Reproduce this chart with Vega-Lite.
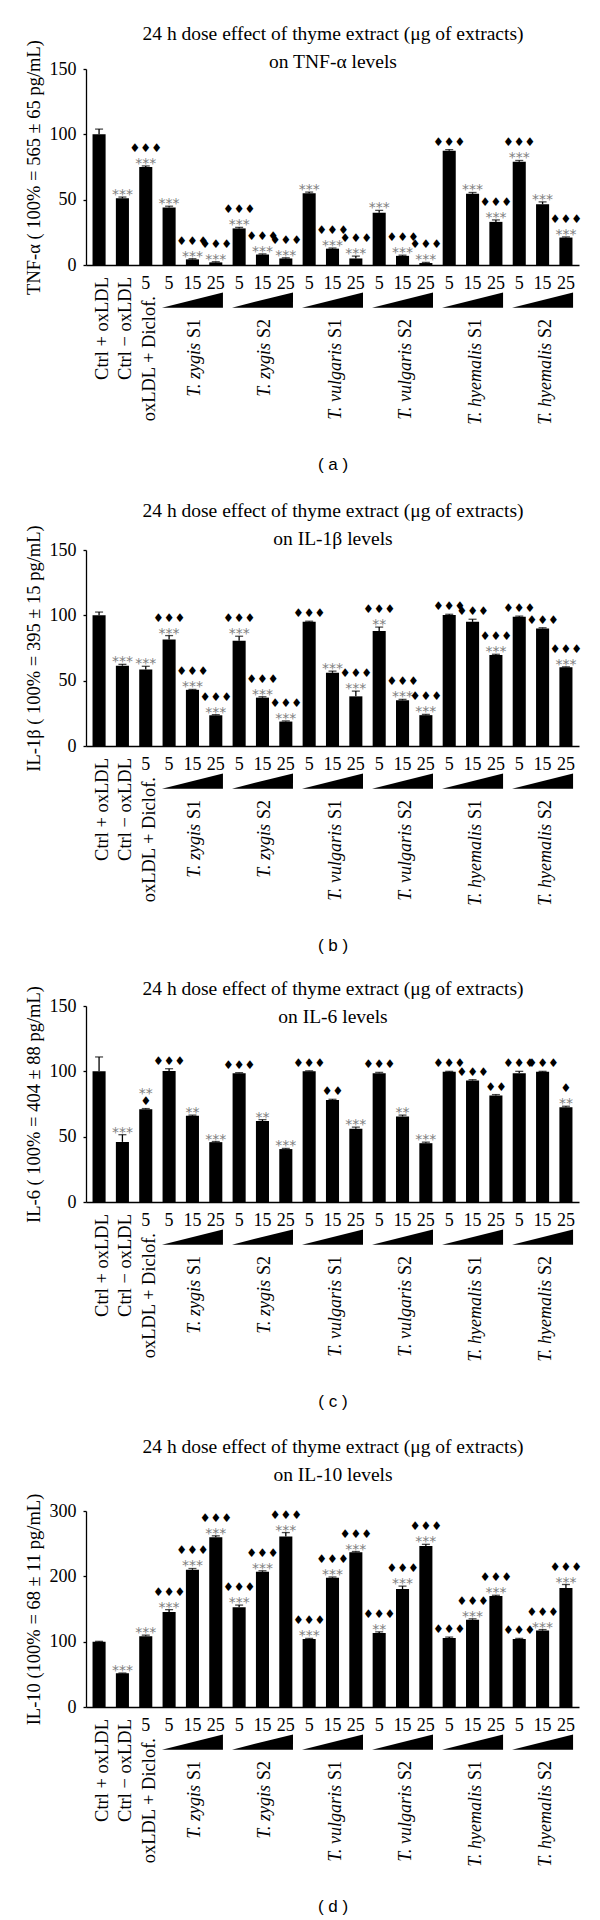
{
  "$schema": "https://vega.github.io/schema/vega-lite/v6.json",
  "background": "white",
  "padding": {"left": 23, "top": 23, "right": 5, "bottom": 3},
  "spacing": 0,
  "bounds": "flush",
  "datasets": {
    "a": [
      {"k": "Ctrl + oxLDL", "v": 100, "hi": 104, "s1": "", "s2": ""},
      {"k": "Ctrl − oxLDL", "v": 51, "hi": 52, "s1": "***", "s2": ""},
      {"k": "oxLDL + Diclof. 5", "v": 75, "hi": 75.8, "s1": "***", "s2": "♦♦♦"},
      {"k": "T. zygis S1 5", "v": 44, "hi": 45, "s1": "***", "s2": ""},
      {"k": "T. zygis S1 15", "v": 4.3, "hi": 4.8, "s1": "***", "s2": "♦♦♦"},
      {"k": "T. zygis S1 25", "v": 2, "hi": 2.5, "s1": "***", "s2": "♦♦♦"},
      {"k": "T. zygis S2 5", "v": 28, "hi": 28.8, "s1": "***", "s2": "♦♦♦"},
      {"k": "T. zygis S2 15", "v": 8, "hi": 8.5, "s1": "***", "s2": "♦♦♦"},
      {"k": "T. zygis S2 25", "v": 5, "hi": 5.5, "s1": "***", "s2": "♦♦♦"},
      {"k": "T. vulgaris S1 5", "v": 55, "hi": 55.8, "s1": "***", "s2": ""},
      {"k": "T. vulgaris S1 15", "v": 12.5, "hi": 13, "s1": "***", "s2": "♦♦♦"},
      {"k": "T. vulgaris S1 25", "v": 5, "hi": 6.8, "s1": "***", "s2": "♦♦♦"},
      {"k": "T. vulgaris S2 5", "v": 40, "hi": 41.8, "s1": "***", "s2": ""},
      {"k": "T. vulgaris S2 15", "v": 7, "hi": 7.5, "s1": "***", "s2": "♦♦♦"},
      {"k": "T. vulgaris S2 25", "v": 1.5, "hi": 2, "s1": "***", "s2": "♦♦♦"},
      {"k": "T. hyemalis S1 5", "v": 87.5, "hi": 88.3, "s1": "♦♦♦", "s2": ""},
      {"k": "T. hyemalis S1 15", "v": 54.5, "hi": 55.5, "s1": "***", "s2": ""},
      {"k": "T. hyemalis S1 25", "v": 33, "hi": 34.5, "s1": "***", "s2": "♦♦♦"},
      {"k": "T. hyemalis S2 5", "v": 79, "hi": 80, "s1": "***", "s2": "♦♦♦"},
      {"k": "T. hyemalis S2 15", "v": 46.5, "hi": 48.3, "s1": "***", "s2": ""},
      {"k": "T. hyemalis S2 25", "v": 21, "hi": 21.5, "s1": "***", "s2": "♦♦♦"}
    ],
    "b": [
      {"k": "Ctrl + oxLDL", "v": 100, "hi": 102.5, "s1": "", "s2": ""},
      {"k": "Ctrl − oxLDL", "v": 61.5, "hi": 62.5, "s1": "***", "s2": ""},
      {"k": "oxLDL + Diclof. 5", "v": 58.5, "hi": 61, "s1": "***", "s2": ""},
      {"k": "T. zygis S1 5", "v": 81.5, "hi": 84.5, "s1": "***", "s2": "♦♦♦"},
      {"k": "T. zygis S1 15", "v": 43, "hi": 43.3, "s1": "***", "s2": "♦♦♦"},
      {"k": "T. zygis S1 25", "v": 23.5, "hi": 24, "s1": "***", "s2": "♦♦♦"},
      {"k": "T. zygis S2 5", "v": 80.5, "hi": 84, "s1": "***", "s2": "♦♦♦"},
      {"k": "T. zygis S2 15", "v": 37, "hi": 37.7, "s1": "***", "s2": "♦♦♦"},
      {"k": "T. zygis S2 25", "v": 18.7, "hi": 19.2, "s1": "***", "s2": "♦♦♦"},
      {"k": "T. vulgaris S1 5", "v": 95, "hi": 95.5, "s1": "♦♦♦", "s2": ""},
      {"k": "T. vulgaris S1 15", "v": 56, "hi": 57.3, "s1": "***", "s2": ""},
      {"k": "T. vulgaris S1 25", "v": 38, "hi": 42, "s1": "***", "s2": "♦♦♦"},
      {"k": "T. vulgaris S2 5", "v": 88, "hi": 91, "s1": "**", "s2": "♦♦♦"},
      {"k": "T. vulgaris S2 15", "v": 35, "hi": 35.7, "s1": "***", "s2": "♦♦♦"},
      {"k": "T. vulgaris S2 25", "v": 23.6, "hi": 24.2, "s1": "***", "s2": "♦♦♦"},
      {"k": "T. hyemalis S1 5", "v": 100.3, "hi": 100.8, "s1": "♦♦♦", "s2": ""},
      {"k": "T. hyemalis S1 15", "v": 95, "hi": 97, "s1": "♦♦♦", "s2": ""},
      {"k": "T. hyemalis S1 25", "v": 69.7, "hi": 70.2, "s1": "***", "s2": "♦♦♦"},
      {"k": "T. hyemalis S2 5", "v": 99, "hi": 99.4, "s1": "♦♦♦", "s2": ""},
      {"k": "T. hyemalis S2 15", "v": 90, "hi": 90.5, "s1": "♦♦♦", "s2": ""},
      {"k": "T. hyemalis S2 25", "v": 60.2, "hi": 60.6, "s1": "***", "s2": "♦♦♦"}
    ],
    "c": [
      {"k": "Ctrl + oxLDL", "v": 100, "hi": 111, "s1": "", "s2": ""},
      {"k": "Ctrl − oxLDL", "v": 46, "hi": 51.5, "s1": "***", "s2": ""},
      {"k": "oxLDL + Diclof. 5", "v": 71, "hi": 71.5, "s1": "♦", "s2": "**"},
      {"k": "T. zygis S1 5", "v": 100.3, "hi": 102, "s1": "♦♦♦", "s2": ""},
      {"k": "T. zygis S1 15", "v": 66, "hi": 66.5, "s1": "**", "s2": ""},
      {"k": "T. zygis S1 25", "v": 45.8, "hi": 46.3, "s1": "***", "s2": ""},
      {"k": "T. zygis S2 5", "v": 98.5, "hi": 99, "s1": "♦♦♦", "s2": ""},
      {"k": "T. zygis S2 15", "v": 62, "hi": 63, "s1": "**", "s2": ""},
      {"k": "T. zygis S2 25", "v": 40.5, "hi": 41, "s1": "***", "s2": ""},
      {"k": "T. vulgaris S1 5", "v": 100, "hi": 100.4, "s1": "♦♦♦", "s2": ""},
      {"k": "T. vulgaris S1 15", "v": 78, "hi": 78.6, "s1": "♦♦", "s2": ""},
      {"k": "T. vulgaris S1 25", "v": 56, "hi": 57.3, "s1": "***", "s2": ""},
      {"k": "T. vulgaris S2 5", "v": 98.5, "hi": 99.2, "s1": "♦♦♦", "s2": ""},
      {"k": "T. vulgaris S2 15", "v": 65.5, "hi": 66.5, "s1": "**", "s2": ""},
      {"k": "T. vulgaris S2 25", "v": 45, "hi": 45.8, "s1": "***", "s2": ""},
      {"k": "T. hyemalis S1 5", "v": 99.6, "hi": 100, "s1": "♦♦♦", "s2": ""},
      {"k": "T. hyemalis S1 15", "v": 93, "hi": 93.6, "s1": "♦♦♦", "s2": ""},
      {"k": "T. hyemalis S1 25", "v": 81.6, "hi": 82.2, "s1": "♦♦", "s2": ""},
      {"k": "T. hyemalis S2 5", "v": 98.5, "hi": 100, "s1": "♦♦♦", "s2": ""},
      {"k": "T. hyemalis S2 15", "v": 99.6, "hi": 100, "s1": "♦♦♦", "s2": ""},
      {"k": "T. hyemalis S2 25", "v": 72.5, "hi": 73.3, "s1": "**", "s2": "♦"}
    ],
    "d": [
      {"k": "Ctrl + oxLDL", "v": 100, "hi": 100.5, "s1": "", "s2": ""},
      {"k": "Ctrl − oxLDL", "v": 51.5, "hi": 52, "s1": "***", "s2": ""},
      {"k": "oxLDL + Diclof. 5", "v": 108.3, "hi": 110, "s1": "***", "s2": ""},
      {"k": "T. zygis S1 5", "v": 145.4, "hi": 149, "s1": "***", "s2": "♦♦♦"},
      {"k": "T. zygis S1 15", "v": 210, "hi": 212, "s1": "***", "s2": "♦♦♦"},
      {"k": "T. zygis S1 25", "v": 260, "hi": 262, "s1": "***", "s2": "♦♦♦"},
      {"k": "T. zygis S2 5", "v": 152.5, "hi": 156, "s1": "***", "s2": "♦♦♦"},
      {"k": "T. zygis S2 15", "v": 207, "hi": 208.5, "s1": "***", "s2": "♦♦♦"},
      {"k": "T. zygis S2 25", "v": 261, "hi": 267, "s1": "***", "s2": "♦♦♦"},
      {"k": "T. vulgaris S1 5", "v": 104, "hi": 105, "s1": "***", "s2": "♦♦♦"},
      {"k": "T. vulgaris S1 15", "v": 198, "hi": 199, "s1": "***", "s2": "♦♦♦"},
      {"k": "T. vulgaris S1 25", "v": 237, "hi": 238, "s1": "***", "s2": "♦♦♦"},
      {"k": "T. vulgaris S2 5", "v": 113.3, "hi": 115, "s1": "**", "s2": "♦♦♦"},
      {"k": "T. vulgaris S2 15", "v": 180.6, "hi": 185, "s1": "***", "s2": "♦♦♦"},
      {"k": "T. vulgaris S2 25", "v": 246.5, "hi": 249, "s1": "***", "s2": "♦♦♦"},
      {"k": "T. hyemalis S1 5", "v": 105.6, "hi": 107, "s1": "♦♦♦", "s2": ""},
      {"k": "T. hyemalis S1 15", "v": 133.7, "hi": 135, "s1": "***", "s2": "♦♦♦"},
      {"k": "T. hyemalis S1 25", "v": 170, "hi": 171, "s1": "***", "s2": "♦♦♦"},
      {"k": "T. hyemalis S2 5", "v": 104, "hi": 105, "s1": "♦♦♦", "s2": ""},
      {"k": "T. hyemalis S2 15", "v": 117, "hi": 118.5, "s1": "***", "s2": "♦♦♦"},
      {"k": "T. hyemalis S2 25", "v": 182, "hi": 187.5, "s1": "***", "s2": "♦♦♦"}
    ],
    "doses": [
      {"k": "oxLDL + Diclof. 5", "dose": "5"},
      {"k": "T. zygis S1 5", "dose": "5"}, {"k": "T. zygis S1 15", "dose": "15"}, {"k": "T. zygis S1 25", "dose": "25"},
      {"k": "T. zygis S2 5", "dose": "5"}, {"k": "T. zygis S2 15", "dose": "15"}, {"k": "T. zygis S2 25", "dose": "25"},
      {"k": "T. vulgaris S1 5", "dose": "5"}, {"k": "T. vulgaris S1 15", "dose": "15"}, {"k": "T. vulgaris S1 25", "dose": "25"},
      {"k": "T. vulgaris S2 5", "dose": "5"}, {"k": "T. vulgaris S2 15", "dose": "15"}, {"k": "T. vulgaris S2 25", "dose": "25"},
      {"k": "T. hyemalis S1 5", "dose": "5"}, {"k": "T. hyemalis S1 15", "dose": "15"}, {"k": "T. hyemalis S1 25", "dose": "25"},
      {"k": "T. hyemalis S2 5", "dose": "5"}, {"k": "T. hyemalis S2 15", "dose": "15"}, {"k": "T. hyemalis S2 25", "dose": "25"}
    ],
    "ctrl": [
      {"k": "Ctrl + oxLDL", "name": "Ctrl + oxLDL"},
      {"k": "Ctrl − oxLDL", "name": "Ctrl − oxLDL"}
    ],
    "diclof": [
      {"k": "oxLDL + Diclof. 5", "name": "oxLDL + Diclof."}
    ],
    "groups": [
      {"k": "T. zygis S1 15", "sp": "T. zygis", "s": "S1"},
      {"k": "T. zygis S2 15", "sp": "T. zygis", "s": "S2"},
      {"k": "T. vulgaris S1 15", "sp": "T. vulgaris", "s": "S1"},
      {"k": "T. vulgaris S2 15", "sp": "T. vulgaris", "s": "S2"},
      {"k": "T. hyemalis S1 15", "sp": "T. hyemalis", "s": "S1"},
      {"k": "T. hyemalis S2 15", "sp": "T. hyemalis", "s": "S2"}
    ]
  },
  "vconcat": [
    {
      "width": 493, "height": 196,
      "resolve": {"axis": {"x": "independent"}},
      "layer": [
        {"data": {"name": "a"}, "mark": {"type": "bar", "color": "black"},
         "encoding": {
           "x": {"field": "k", "type": "nominal", "scale": {"domain": ["Ctrl + oxLDL","Ctrl − oxLDL","oxLDL + Diclof. 5","T. zygis S1 5","T. zygis S1 15","T. zygis S1 25","T. zygis S2 5","T. zygis S2 15","T. zygis S2 25","T. vulgaris S1 5","T. vulgaris S1 15","T. vulgaris S1 25","T. vulgaris S2 5","T. vulgaris S2 15","T. vulgaris S2 25","T. hyemalis S1 5","T. hyemalis S1 15","T. hyemalis S1 25","T. hyemalis S2 5","T. hyemalis S2 15","T. hyemalis S2 25"], "paddingInner": 0.44, "paddingOuter": 0.28},
                 "axis": {"orient": "bottom", "title": "( a )", "titleY": 199, "titleBaseline": "middle", "titleFont": "Liberation Sans", "titleFontSize": 17, "labels": false, "ticks": false, "domain": true}},
           "y": {"field": "v", "type": "quantitative", "scale": {"domain": [0, 150], "nice": false}, "axis": {"title": "TNF-α ( 100% = 565 ± 65 pg/mL)", "values": [0, 50, 100, 150]}}}},
        {"data": {"name": "a"}, "mark": {"type": "rule", "color": "black", "strokeWidth": 1.3},
         "encoding": {"x": {"field": "k", "type": "nominal", "axis": {"orient": "top", "title": ["24 h dose effect of thyme extract (μg of extracts)", "on TNF-α levels"], "titleY": -30, "titleBaseline": "alphabetic", "titleFont": "Liberation Serif", "titleFontSize": 19.5, "titleLineHeight": 28, "labels": false, "ticks": false, "domain": false}},
                      "y": {"field": "v", "type": "quantitative"}, "y2": {"field": "hi"}}},
        {"data": {"name": "a"}, "mark": {"type": "tick", "orient": "horizontal", "size": 8, "thickness": 1.3, "color": "black"},
         "encoding": {"x": {"field": "k", "type": "nominal", "axis": null}, "y": {"field": "hi", "type": "quantitative"}}},
        {"data": {"name": "a"}, "transform": [{"filter": "indexof(datum.s1, '*') >= 0"}], "mark": {"type": "text", "font": "DejaVu Sans", "fontSize": 14, "color": "#808080", "baseline": "alphabetic", "dy": 2},
         "encoding": {"x": {"field": "k", "type": "nominal", "axis": null}, "y": {"field": "hi", "type": "quantitative"}, "text": {"field": "s1"}}},
        {"data": {"name": "a"}, "transform": [{"filter": "indexof(datum.s1, '♦') >= 0"}], "mark": {"type": "text", "font": "DejaVu Sans", "fontSize": 12, "color": "black", "baseline": "alphabetic", "dy": -4},
         "encoding": {"x": {"field": "k", "type": "nominal", "axis": null}, "y": {"field": "hi", "type": "quantitative"}, "text": {"field": "s1"}}},
        {"data": {"name": "a"}, "transform": [{"filter": "indexof(datum.s2, '*') >= 0"}], "mark": {"type": "text", "font": "DejaVu Sans", "fontSize": 14, "color": "#808080", "baseline": "alphabetic", "dy": -11},
         "encoding": {"x": {"field": "k", "type": "nominal", "axis": null}, "y": {"field": "hi", "type": "quantitative"}, "text": {"field": "s2"}}},
        {"data": {"name": "a"}, "transform": [{"filter": "indexof(datum.s2, '♦') >= 0"}], "mark": {"type": "text", "font": "DejaVu Sans", "fontSize": 12, "color": "black", "baseline": "alphabetic", "dy": -14},
         "encoding": {"x": {"field": "k", "type": "nominal", "axis": null}, "y": {"field": "hi", "type": "quantitative"}, "text": {"field": "s2"}}},
        {"data": {"name": "doses"}, "mark": {"type": "text", "fontSize": 18, "baseline": "middle", "yOffset": 19},
         "encoding": {"x": {"field": "k", "type": "nominal", "axis": null}, "y": {"datum": 0}, "text": {"field": "dose"}}},
        {"data": {"name": "groups"}, "mark": {"type": "point", "shape": "M -1 0.25 L 1 0.25 L 1 -0.25 Z", "size": 3721, "filled": true, "color": "black", "opacity": 1, "strokeWidth": 0, "yOffset": 35},
         "encoding": {"x": {"field": "k", "type": "nominal", "axis": null}, "y": {"datum": 0}}},
        {"data": {"name": "ctrl"}, "mark": {"type": "text", "angle": 270, "align": "right", "baseline": "middle", "fontSize": 18.5, "yOffset": 12, "dy": 3},
         "encoding": {"x": {"field": "k", "type": "nominal", "axis": null}, "y": {"datum": 0}, "text": {"field": "name"}}},
        {"data": {"name": "diclof"}, "mark": {"type": "text", "angle": 270, "align": "right", "baseline": "middle", "fontSize": 18.5, "yOffset": 31, "dy": 3},
         "encoding": {"x": {"field": "k", "type": "nominal", "axis": null}, "y": {"datum": 0}, "text": {"field": "name"}}},
        {"data": {"name": "groups"}, "mark": {"type": "text", "angle": 270, "align": "right", "baseline": "middle", "fontSize": 18, "yOffset": 54, "dy": 3},
         "encoding": {"x": {"field": "k", "type": "nominal", "axis": null}, "y": {"datum": 0}, "text": {"field": "s"}}},
        {"data": {"name": "groups"}, "mark": {"type": "text", "angle": 270, "align": "right", "baseline": "middle", "fontSize": 18, "fontStyle": "italic", "yOffset": 78, "dy": 3},
         "encoding": {"x": {"field": "k", "type": "nominal", "axis": null}, "y": {"datum": 0}, "text": {"field": "sp"}}}
      ]
    },
    {"width": 493, "height": 285, "data": {"values": []}, "mark": "point", "encoding": {}},
    {
      "width": 493, "height": 196,
      "resolve": {"axis": {"x": "independent"}},
      "layer": [
        {"data": {"name": "b"}, "mark": {"type": "bar", "color": "black"},
         "encoding": {
           "x": {"field": "k", "type": "nominal", "scale": {"domain": ["Ctrl + oxLDL","Ctrl − oxLDL","oxLDL + Diclof. 5","T. zygis S1 5","T. zygis S1 15","T. zygis S1 25","T. zygis S2 5","T. zygis S2 15","T. zygis S2 25","T. vulgaris S1 5","T. vulgaris S1 15","T. vulgaris S1 25","T. vulgaris S2 5","T. vulgaris S2 15","T. vulgaris S2 25","T. hyemalis S1 5","T. hyemalis S1 15","T. hyemalis S1 25","T. hyemalis S2 5","T. hyemalis S2 15","T. hyemalis S2 25"], "paddingInner": 0.44, "paddingOuter": 0.28},
                 "axis": {"orient": "bottom", "title": "( b )", "titleY": 199, "titleBaseline": "middle", "titleFont": "Liberation Sans", "titleFontSize": 17, "labels": false, "ticks": false, "domain": true}},
           "y": {"field": "v", "type": "quantitative", "scale": {"domain": [0, 150], "nice": false}, "axis": {"title": "IL-1β ( 100% = 395 ± 15 pg/mL)", "values": [0, 50, 100, 150]}}}},
        {"data": {"name": "b"}, "mark": {"type": "rule", "color": "black", "strokeWidth": 1.3},
         "encoding": {"x": {"field": "k", "type": "nominal", "axis": {"orient": "top", "title": ["24 h dose effect of thyme extract (μg of extracts)", "on IL-1β levels"], "titleY": -34, "titleBaseline": "alphabetic", "titleFont": "Liberation Serif", "titleFontSize": 19.5, "titleLineHeight": 28, "labels": false, "ticks": false, "domain": false}},
                      "y": {"field": "v", "type": "quantitative"}, "y2": {"field": "hi"}}},
        {"data": {"name": "b"}, "mark": {"type": "tick", "orient": "horizontal", "size": 8, "thickness": 1.3, "color": "black"},
         "encoding": {"x": {"field": "k", "type": "nominal", "axis": null}, "y": {"field": "hi", "type": "quantitative"}}},
        {"data": {"name": "b"}, "transform": [{"filter": "indexof(datum.s1, '*') >= 0"}], "mark": {"type": "text", "font": "DejaVu Sans", "fontSize": 14, "color": "#808080", "baseline": "alphabetic", "dy": 2},
         "encoding": {"x": {"field": "k", "type": "nominal", "axis": null}, "y": {"field": "hi", "type": "quantitative"}, "text": {"field": "s1"}}},
        {"data": {"name": "b"}, "transform": [{"filter": "indexof(datum.s1, '♦') >= 0"}], "mark": {"type": "text", "font": "DejaVu Sans", "fontSize": 12, "color": "black", "baseline": "alphabetic", "dy": -4},
         "encoding": {"x": {"field": "k", "type": "nominal", "axis": null}, "y": {"field": "hi", "type": "quantitative"}, "text": {"field": "s1"}}},
        {"data": {"name": "b"}, "transform": [{"filter": "indexof(datum.s2, '*') >= 0"}], "mark": {"type": "text", "font": "DejaVu Sans", "fontSize": 14, "color": "#808080", "baseline": "alphabetic", "dy": -11},
         "encoding": {"x": {"field": "k", "type": "nominal", "axis": null}, "y": {"field": "hi", "type": "quantitative"}, "text": {"field": "s2"}}},
        {"data": {"name": "b"}, "transform": [{"filter": "indexof(datum.s2, '♦') >= 0"}], "mark": {"type": "text", "font": "DejaVu Sans", "fontSize": 12, "color": "black", "baseline": "alphabetic", "dy": -14},
         "encoding": {"x": {"field": "k", "type": "nominal", "axis": null}, "y": {"field": "hi", "type": "quantitative"}, "text": {"field": "s2"}}},
        {"data": {"name": "doses"}, "mark": {"type": "text", "fontSize": 18, "baseline": "middle", "yOffset": 19},
         "encoding": {"x": {"field": "k", "type": "nominal", "axis": null}, "y": {"datum": 0}, "text": {"field": "dose"}}},
        {"data": {"name": "groups"}, "mark": {"type": "point", "shape": "M -1 0.25 L 1 0.25 L 1 -0.25 Z", "size": 3721, "filled": true, "color": "black", "opacity": 1, "strokeWidth": 0, "yOffset": 35},
         "encoding": {"x": {"field": "k", "type": "nominal", "axis": null}, "y": {"datum": 0}}},
        {"data": {"name": "ctrl"}, "mark": {"type": "text", "angle": 270, "align": "right", "baseline": "middle", "fontSize": 18.5, "yOffset": 12, "dy": 3},
         "encoding": {"x": {"field": "k", "type": "nominal", "axis": null}, "y": {"datum": 0}, "text": {"field": "name"}}},
        {"data": {"name": "diclof"}, "mark": {"type": "text", "angle": 270, "align": "right", "baseline": "middle", "fontSize": 18.5, "yOffset": 31, "dy": 3},
         "encoding": {"x": {"field": "k", "type": "nominal", "axis": null}, "y": {"datum": 0}, "text": {"field": "name"}}},
        {"data": {"name": "groups"}, "mark": {"type": "text", "angle": 270, "align": "right", "baseline": "middle", "fontSize": 18, "yOffset": 54, "dy": 3},
         "encoding": {"x": {"field": "k", "type": "nominal", "axis": null}, "y": {"datum": 0}, "text": {"field": "s"}}},
        {"data": {"name": "groups"}, "mark": {"type": "text", "angle": 270, "align": "right", "baseline": "middle", "fontSize": 18, "fontStyle": "italic", "yOffset": 78, "dy": 3},
         "encoding": {"x": {"field": "k", "type": "nominal", "axis": null}, "y": {"datum": 0}, "text": {"field": "sp"}}}
      ]
    },
    {"width": 493, "height": 260, "data": {"values": []}, "mark": "point", "encoding": {}},
    {
      "width": 493, "height": 196,
      "resolve": {"axis": {"x": "independent"}},
      "layer": [
        {"data": {"name": "c"}, "mark": {"type": "bar", "color": "black"},
         "encoding": {
           "x": {"field": "k", "type": "nominal", "scale": {"domain": ["Ctrl + oxLDL","Ctrl − oxLDL","oxLDL + Diclof. 5","T. zygis S1 5","T. zygis S1 15","T. zygis S1 25","T. zygis S2 5","T. zygis S2 15","T. zygis S2 25","T. vulgaris S1 5","T. vulgaris S1 15","T. vulgaris S1 25","T. vulgaris S2 5","T. vulgaris S2 15","T. vulgaris S2 25","T. hyemalis S1 5","T. hyemalis S1 15","T. hyemalis S1 25","T. hyemalis S2 5","T. hyemalis S2 15","T. hyemalis S2 25"], "paddingInner": 0.44, "paddingOuter": 0.28},
                 "axis": {"orient": "bottom", "title": "( c )", "titleY": 199, "titleBaseline": "middle", "titleFont": "Liberation Sans", "titleFontSize": 17, "labels": false, "ticks": false, "domain": true}},
           "y": {"field": "v", "type": "quantitative", "scale": {"domain": [0, 150], "nice": false}, "axis": {"title": "IL-6 ( 100% = 404 ± 88 pg/mL)", "values": [0, 50, 100, 150]}}}},
        {"data": {"name": "c"}, "mark": {"type": "rule", "color": "black", "strokeWidth": 1.3},
         "encoding": {"x": {"field": "k", "type": "nominal", "axis": {"orient": "top", "title": ["24 h dose effect of thyme extract (μg of extracts)", "on IL-6 levels"], "titleY": -12, "titleBaseline": "alphabetic", "titleFont": "Liberation Serif", "titleFontSize": 19.5, "titleLineHeight": 28, "labels": false, "ticks": false, "domain": false}},
                      "y": {"field": "v", "type": "quantitative"}, "y2": {"field": "hi"}}},
        {"data": {"name": "c"}, "mark": {"type": "tick", "orient": "horizontal", "size": 8, "thickness": 1.3, "color": "black"},
         "encoding": {"x": {"field": "k", "type": "nominal", "axis": null}, "y": {"field": "hi", "type": "quantitative"}}},
        {"data": {"name": "c"}, "transform": [{"filter": "indexof(datum.s1, '*') >= 0"}], "mark": {"type": "text", "font": "DejaVu Sans", "fontSize": 14, "color": "#808080", "baseline": "alphabetic", "dy": 2},
         "encoding": {"x": {"field": "k", "type": "nominal", "axis": null}, "y": {"field": "hi", "type": "quantitative"}, "text": {"field": "s1"}}},
        {"data": {"name": "c"}, "transform": [{"filter": "indexof(datum.s1, '♦') >= 0"}], "mark": {"type": "text", "font": "DejaVu Sans", "fontSize": 12, "color": "black", "baseline": "alphabetic", "dy": -4},
         "encoding": {"x": {"field": "k", "type": "nominal", "axis": null}, "y": {"field": "hi", "type": "quantitative"}, "text": {"field": "s1"}}},
        {"data": {"name": "c"}, "transform": [{"filter": "indexof(datum.s2, '*') >= 0"}], "mark": {"type": "text", "font": "DejaVu Sans", "fontSize": 14, "color": "#808080", "baseline": "alphabetic", "dy": -11},
         "encoding": {"x": {"field": "k", "type": "nominal", "axis": null}, "y": {"field": "hi", "type": "quantitative"}, "text": {"field": "s2"}}},
        {"data": {"name": "c"}, "transform": [{"filter": "indexof(datum.s2, '♦') >= 0"}], "mark": {"type": "text", "font": "DejaVu Sans", "fontSize": 12, "color": "black", "baseline": "alphabetic", "dy": -14},
         "encoding": {"x": {"field": "k", "type": "nominal", "axis": null}, "y": {"field": "hi", "type": "quantitative"}, "text": {"field": "s2"}}},
        {"data": {"name": "doses"}, "mark": {"type": "text", "fontSize": 18, "baseline": "middle", "yOffset": 19},
         "encoding": {"x": {"field": "k", "type": "nominal", "axis": null}, "y": {"datum": 0}, "text": {"field": "dose"}}},
        {"data": {"name": "groups"}, "mark": {"type": "point", "shape": "M -1 0.25 L 1 0.25 L 1 -0.25 Z", "size": 3721, "filled": true, "color": "black", "opacity": 1, "strokeWidth": 0, "yOffset": 35},
         "encoding": {"x": {"field": "k", "type": "nominal", "axis": null}, "y": {"datum": 0}}},
        {"data": {"name": "ctrl"}, "mark": {"type": "text", "angle": 270, "align": "right", "baseline": "middle", "fontSize": 18.5, "yOffset": 12, "dy": 3},
         "encoding": {"x": {"field": "k", "type": "nominal", "axis": null}, "y": {"datum": 0}, "text": {"field": "name"}}},
        {"data": {"name": "diclof"}, "mark": {"type": "text", "angle": 270, "align": "right", "baseline": "middle", "fontSize": 18.5, "yOffset": 31, "dy": 3},
         "encoding": {"x": {"field": "k", "type": "nominal", "axis": null}, "y": {"datum": 0}, "text": {"field": "name"}}},
        {"data": {"name": "groups"}, "mark": {"type": "text", "angle": 270, "align": "right", "baseline": "middle", "fontSize": 18, "yOffset": 54, "dy": 3},
         "encoding": {"x": {"field": "k", "type": "nominal", "axis": null}, "y": {"datum": 0}, "text": {"field": "s"}}},
        {"data": {"name": "groups"}, "mark": {"type": "text", "angle": 270, "align": "right", "baseline": "middle", "fontSize": 18, "fontStyle": "italic", "yOffset": 78, "dy": 3},
         "encoding": {"x": {"field": "k", "type": "nominal", "axis": null}, "y": {"datum": 0}, "text": {"field": "sp"}}}
      ]
    },
    {"width": 493, "height": 309, "data": {"values": []}, "mark": "point", "encoding": {}},
    {
      "width": 493, "height": 196,
      "resolve": {"axis": {"x": "independent"}},
      "layer": [
        {"data": {"name": "d"}, "mark": {"type": "bar", "color": "black"},
         "encoding": {
           "x": {"field": "k", "type": "nominal", "scale": {"domain": ["Ctrl + oxLDL","Ctrl − oxLDL","oxLDL + Diclof. 5","T. zygis S1 5","T. zygis S1 15","T. zygis S1 25","T. zygis S2 5","T. zygis S2 15","T. zygis S2 25","T. vulgaris S1 5","T. vulgaris S1 15","T. vulgaris S1 25","T. vulgaris S2 5","T. vulgaris S2 15","T. vulgaris S2 25","T. hyemalis S1 5","T. hyemalis S1 15","T. hyemalis S1 25","T. hyemalis S2 5","T. hyemalis S2 15","T. hyemalis S2 25"], "paddingInner": 0.44, "paddingOuter": 0.28},
                 "axis": {"orient": "bottom", "title": "( d )", "titleY": 199, "titleBaseline": "middle", "titleFont": "Liberation Sans", "titleFontSize": 17, "labels": false, "ticks": false, "domain": true}},
           "y": {"field": "v", "type": "quantitative", "scale": {"domain": [0, 300], "nice": false}, "axis": {"title": "IL-10 (100% = 68 ± 11 pg/mL)", "values": [0, 100, 200, 300]}}}},
        {"data": {"name": "d"}, "mark": {"type": "rule", "color": "black", "strokeWidth": 1.3},
         "encoding": {"x": {"field": "k", "type": "nominal", "axis": {"orient": "top", "title": ["24 h dose effect of thyme extract (μg of extracts)", "on IL-10 levels"], "titleY": -59, "titleBaseline": "alphabetic", "titleFont": "Liberation Serif", "titleFontSize": 19.5, "titleLineHeight": 28, "labels": false, "ticks": false, "domain": false}},
                      "y": {"field": "v", "type": "quantitative"}, "y2": {"field": "hi"}}},
        {"data": {"name": "d"}, "mark": {"type": "tick", "orient": "horizontal", "size": 8, "thickness": 1.3, "color": "black"},
         "encoding": {"x": {"field": "k", "type": "nominal", "axis": null}, "y": {"field": "hi", "type": "quantitative"}}},
        {"data": {"name": "d"}, "transform": [{"filter": "indexof(datum.s1, '*') >= 0"}], "mark": {"type": "text", "font": "DejaVu Sans", "fontSize": 14, "color": "#808080", "baseline": "alphabetic", "dy": 2},
         "encoding": {"x": {"field": "k", "type": "nominal", "axis": null}, "y": {"field": "hi", "type": "quantitative"}, "text": {"field": "s1"}}},
        {"data": {"name": "d"}, "transform": [{"filter": "indexof(datum.s1, '♦') >= 0"}], "mark": {"type": "text", "font": "DejaVu Sans", "fontSize": 12, "color": "black", "baseline": "alphabetic", "dy": -4},
         "encoding": {"x": {"field": "k", "type": "nominal", "axis": null}, "y": {"field": "hi", "type": "quantitative"}, "text": {"field": "s1"}}},
        {"data": {"name": "d"}, "transform": [{"filter": "indexof(datum.s2, '*') >= 0"}], "mark": {"type": "text", "font": "DejaVu Sans", "fontSize": 14, "color": "#808080", "baseline": "alphabetic", "dy": -11},
         "encoding": {"x": {"field": "k", "type": "nominal", "axis": null}, "y": {"field": "hi", "type": "quantitative"}, "text": {"field": "s2"}}},
        {"data": {"name": "d"}, "transform": [{"filter": "indexof(datum.s2, '♦') >= 0"}], "mark": {"type": "text", "font": "DejaVu Sans", "fontSize": 12, "color": "black", "baseline": "alphabetic", "dy": -14},
         "encoding": {"x": {"field": "k", "type": "nominal", "axis": null}, "y": {"field": "hi", "type": "quantitative"}, "text": {"field": "s2"}}},
        {"data": {"name": "doses"}, "mark": {"type": "text", "fontSize": 18, "baseline": "middle", "yOffset": 19},
         "encoding": {"x": {"field": "k", "type": "nominal", "axis": null}, "y": {"datum": 0}, "text": {"field": "dose"}}},
        {"data": {"name": "groups"}, "mark": {"type": "point", "shape": "M -1 0.25 L 1 0.25 L 1 -0.25 Z", "size": 3721, "filled": true, "color": "black", "opacity": 1, "strokeWidth": 0, "yOffset": 35},
         "encoding": {"x": {"field": "k", "type": "nominal", "axis": null}, "y": {"datum": 0}}},
        {"data": {"name": "ctrl"}, "mark": {"type": "text", "angle": 270, "align": "right", "baseline": "middle", "fontSize": 18.5, "yOffset": 12, "dy": 3},
         "encoding": {"x": {"field": "k", "type": "nominal", "axis": null}, "y": {"datum": 0}, "text": {"field": "name"}}},
        {"data": {"name": "diclof"}, "mark": {"type": "text", "angle": 270, "align": "right", "baseline": "middle", "fontSize": 18.5, "yOffset": 31, "dy": 3},
         "encoding": {"x": {"field": "k", "type": "nominal", "axis": null}, "y": {"datum": 0}, "text": {"field": "name"}}},
        {"data": {"name": "groups"}, "mark": {"type": "text", "angle": 270, "align": "right", "baseline": "middle", "fontSize": 18, "yOffset": 54, "dy": 3},
         "encoding": {"x": {"field": "k", "type": "nominal", "axis": null}, "y": {"datum": 0}, "text": {"field": "s"}}},
        {"data": {"name": "groups"}, "mark": {"type": "text", "angle": 270, "align": "right", "baseline": "middle", "fontSize": 18, "fontStyle": "italic", "yOffset": 78, "dy": 3},
         "encoding": {"x": {"field": "k", "type": "nominal", "axis": null}, "y": {"datum": 0}, "text": {"field": "sp"}}}
      ]
    }
  ],
  "config": {
    "view": {"stroke": null},
    "font": "Liberation Serif",
    "text": {"font": "Liberation Serif", "color": "black"},
    "axis": {"domainColor": "black", "domainWidth": 1.3, "tickColor": "black", "tickWidth": 1.3, "labelColor": "black", "titleColor": "black", "labelFont": "Liberation Serif", "titleFont": "Liberation Serif", "labelFontSize": 18, "titleFontSize": 18.5, "titleFontWeight": "normal", "grid": false},
    "axisY": {"tickSize": 3, "labelPadding": 7, "titlePadding": 6}
  }
}
